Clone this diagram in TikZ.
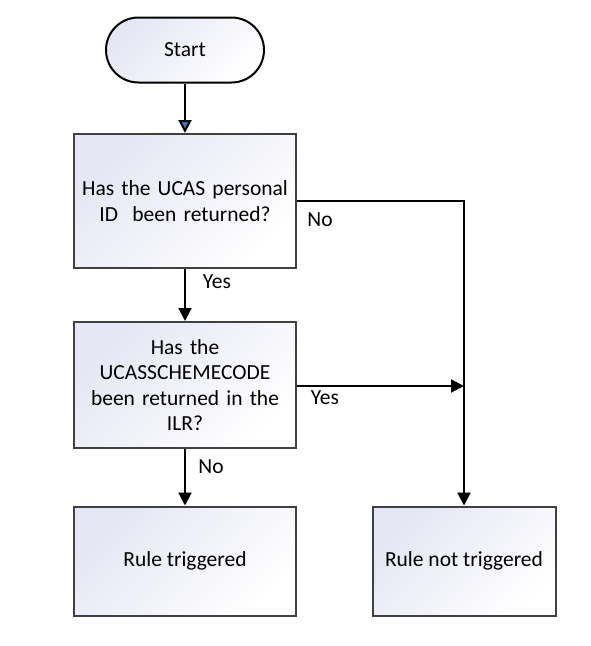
\documentclass[tikz,border=0pt]{standalone}
\usepackage{fontspec}
\setmainfont{Carlito}
\usetikzlibrary{arrows.meta,shapes.misc}
\definecolor{gradtop}{HTML}{E4E6F3}
\definecolor{boxline}{HTML}{404040}
\definecolor{tipblue}{HTML}{4472C4}
\tikzset{
  flowbox/.style={draw=boxline,line width=2pt,shading=axis,top color=gradtop,bottom color=white,
    shading angle=45,inner sep=0pt,align=center},
  flowline/.style={line width=2pt,-{Triangle[length=13pt,width=13pt]}},
  flowlabel/.style={inner sep=0pt}
}
\begin{document}
\begin{tikzpicture}[x=1pt,y=-1pt,font=\fontsize{21.5}{25.5}\selectfont]
		\useasboundingbox (0,0) rectangle (591,646);
		\node [flowbox,draw=black,rounded rectangle,minimum width=158pt,minimum height=65pt] (start) at (185,50) {Start};
		\node [flowbox,minimum width=222pt,minimum height=134pt,text width=215pt] (q1) at (185,201) {Has the UCAS personal\\ID\ \ been returned?};
		\node [flowbox,minimum width=222pt,minimum height=126pt,text width=215pt] (q2) at (185,385) {Has the\\UCASSCHEMECODE\\been returned in the\\ILR?};
		\node [flowbox,minimum width=222pt,minimum height=109pt] (trig) at (185,561) {Rule triggered};
		\node [flowbox,minimum width=183pt,minimum height=109pt] (nottrig) at (464,561) {Rule not triggered};
		\coordinate (join) at (464,386);
		\draw [line width=2pt,-{Triangle[length=13pt,width=13pt,fill=tipblue]}] (start) to (q1);
		\draw [flowline] (q1) to (q2);
		\draw [flowline] (q2) to (trig);
		\draw [flowline] (q1.east) -| (nottrig.north);
		\draw [flowline] (q2.east |- join) to (join);
		\node [flowlabel] at (320,220) {No};
		\node [flowlabel] at (217,282) {Yes};
		\node [flowlabel] at (325,398) {Yes};
		\node [flowlabel] at (211,467) {No};
	\end{tikzpicture}
\end{document}
